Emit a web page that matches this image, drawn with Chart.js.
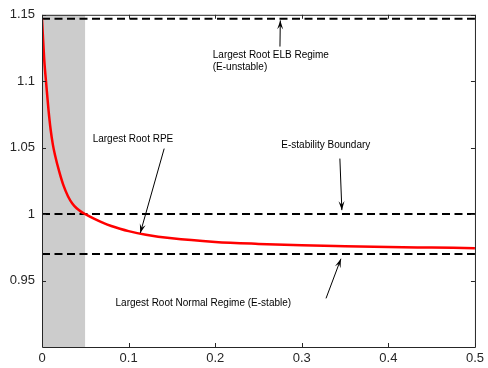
<!DOCTYPE html>
<html>
<head>
<meta charset="utf-8">
<script src="https://cdn.jsdelivr.net/npm/chart.js@4.4.0/dist/chart.umd.min.js"></script>
<style>
  html, body { margin: 0; padding: 0; background: #fff; }
  #wrap { width: 488px; height: 368px; }
</style>
</head>
<body>
<div id="wrap"><canvas id="roots"></canvas></div>
<script>
// largest root under RPE
const rpeX = [0, 0.0025, 0.005, 0.0075, 0.01, 0.0125, 0.015, 0.02, 0.025, 0.03, 0.035, 0.04, 0.045, 0.05,
  0.06, 0.07, 0.08, 0.09, 0.1, 0.12, 0.15, 0.2, 0.25, 0.3, 0.35, 0.4, 0.45, 0.5]
const rpeY = [1.147, 1.117, 1.097, 1.0785, 1.0635, 1.0525, 1.0445, 1.0318, 1.0212, 1.0135, 1.008, 1.0044, 1.0019, 1.0,
  0.9966, 0.9936, 0.9911, 0.989, 0.9872, 0.9845, 0.9818, 0.9791, 0.9776, 0.9765, 0.9758, 0.9752, 0.9748, 0.9744]

// horizontal reference levels
const elbRoot = 1.147
const stabilityBound = 1.0
const normalRoot = 0.970
const lineSpan = [0, 0.5]

// shaded region
const shadeX = [0, 0.05]

const xTicks = [0, 0.1, 0.2, 0.3, 0.4, 0.5]
const yTicks = [0.95, 1, 1.05, 1.1, 1.15]

// annotation text + arrows in data units: [text lines, textX, textY, tailX, tailY, headX, headY]
const notes = [
  [["Largest Root ELB Regime", "(E-unstable)"], 0.1972, 1.1198, 0.2748, 1.1261, 0.2752, 1.1458],
  [["Largest Root RPE"], 0.0585, 1.0567, 0.1411, 1.0493, 0.1135, 0.9858],
  [["E-stability Boundary"], 0.2764, 1.0515, 0.344, 1.0418, 0.3463, 1.003],
  [["Largest Root Normal Regime (E-stable)"], 0.0849, 0.9328, 0.328, 0.9366, 0.3452, 0.9664]
]

const pts = (xs, ys) => xs.map((x, i) => ({ x, y: ys[i] }))
const flat = (v) => lineSpan.map((x) => ({ x, y: v }))

const tickFont = { family: "'Liberation Sans', Arial, sans-serif", size: 13 }
const axisColor = "#262626"

const boxAndTicks = {
  id: "boxAndTicks",
  afterDatasetsDraw(chart) {
    const { ctx, chartArea: a, scales } = chart
    ctx.save()
    ctx.strokeStyle = axisColor
    ctx.lineWidth = 1
    ctx.beginPath()
    ctx.rect(a.left + 0.5, a.top + 0.5, a.right - a.left, a.bottom - a.top)
    ctx.stroke()
    ctx.beginPath()
    xTicks.forEach((v) => {
      const px = Math.round(scales.x.getPixelForValue(v)) + 0.5
      ctx.moveTo(px, a.bottom); ctx.lineTo(px, a.bottom - 4)
      ctx.moveTo(px, a.top); ctx.lineTo(px, a.top + 4)
    })
    yTicks.forEach((v) => {
      const py = Math.round(scales.y.getPixelForValue(v)) + 0.5
      ctx.moveTo(a.left, py); ctx.lineTo(a.left + 4, py)
      ctx.moveTo(a.right, py); ctx.lineTo(a.right - 4, py)
    })
    ctx.stroke()
    ctx.restore()
  }
}

const annotations = {
  id: "annotations",
  afterDraw(chart) {
    const { ctx, scales } = chart
    const X = (v) => scales.x.getPixelForValue(v)
    const Y = (v) => scales.y.getPixelForValue(v)
    ctx.save()
    ctx.fillStyle = "#000"
    ctx.strokeStyle = "#000"
    ctx.font = "10px 'Liberation Sans', Arial, sans-serif"
    ctx.textBaseline = "middle"
    notes.forEach(([lines, tx, ty, x0, y0, x1, y1]) => {
      lines.forEach((s, i) => ctx.fillText(s, X(tx), Y(ty) + i * 12))
      const ax = X(x0), ay = Y(y0), bx = X(x1), by = Y(y1)
      ctx.lineWidth = 1
      ctx.beginPath()
      ctx.moveTo(ax, ay); ctx.lineTo(bx, by)
      ctx.stroke()
      const ang = Math.atan2(by - ay, bx - ax)
      const len = 9, wid = 3
      ctx.beginPath()
      ctx.moveTo(bx, by)
      ctx.lineTo(bx - len * Math.cos(ang) + wid * Math.sin(ang), by - len * Math.sin(ang) - wid * Math.cos(ang))
      ctx.lineTo(bx - 0.6 * len * Math.cos(ang), by - 0.6 * len * Math.sin(ang))
      ctx.lineTo(bx - len * Math.cos(ang) - wid * Math.sin(ang), by - len * Math.sin(ang) + wid * Math.cos(ang))
      ctx.closePath()
      ctx.fill()
    })
    ctx.restore()
  }
}

const dashed = { borderColor: "#000", borderWidth: 2, borderDash: [8, 4.5], pointRadius: 0, fill: false }

new Chart(document.getElementById("roots"), {
  type: "line",
  data: {
    datasets: [
      { label: "Largest Root RPE", data: pts(rpeX, rpeY), borderColor: "#ff0000", borderWidth: 2.5,
        pointRadius: 0, cubicInterpolationMode: "monotone", fill: false, order: 0 },
      { label: "ELB", data: flat(elbRoot), ...dashed, order: 1 },
      { label: "Boundary", data: flat(stabilityBound), ...dashed, order: 1 },
      { label: "Normal", data: flat(normalRoot), ...dashed, order: 1 },
      { label: "shade", data: shadeX.map((x) => ({ x, y: 1.15 })), borderWidth: 0, borderColor: "rgba(0,0,0,0)",
        backgroundColor: "#cccccc", pointRadius: 0, fill: "start", order: 2 }
    ]
  },
  options: {
    responsive: true,
    maintainAspectRatio: false,
    animation: false,
    layout: { padding: { top: 11, right: 10, left: 0, bottom: 0 } },
    plugins: { legend: { display: false }, tooltip: { enabled: false } },
    scales: {
      x: {
        type: "linear", min: 0, max: 0.5,
        afterBuildTicks: (s) => { s.ticks = xTicks.map((value) => ({ value })) },
        afterFit: (s) => { s.height = 21 },
        grid: { display: false, drawTicks: false, tickLength: 0 }, border: { display: false },
        ticks: { font: tickFont, color: axisColor, padding: 4, maxRotation: 0, callback: (v) => String(v) }
      },
      y: {
        type: "linear", min: 0.9, max: 1.15,
        afterBuildTicks: (s) => { s.ticks = yTicks.map((value) => ({ value })) },
        afterFit: (s) => { s.width = 42 },
        grid: { display: false, drawTicks: false, tickLength: 0 }, border: { display: false },
        ticks: { font: tickFont, color: axisColor, padding: 7, callback: (v) => String(v) }
      }
    }
  },
  plugins: [boxAndTicks, annotations]
})
</script>
</body>
</html>
